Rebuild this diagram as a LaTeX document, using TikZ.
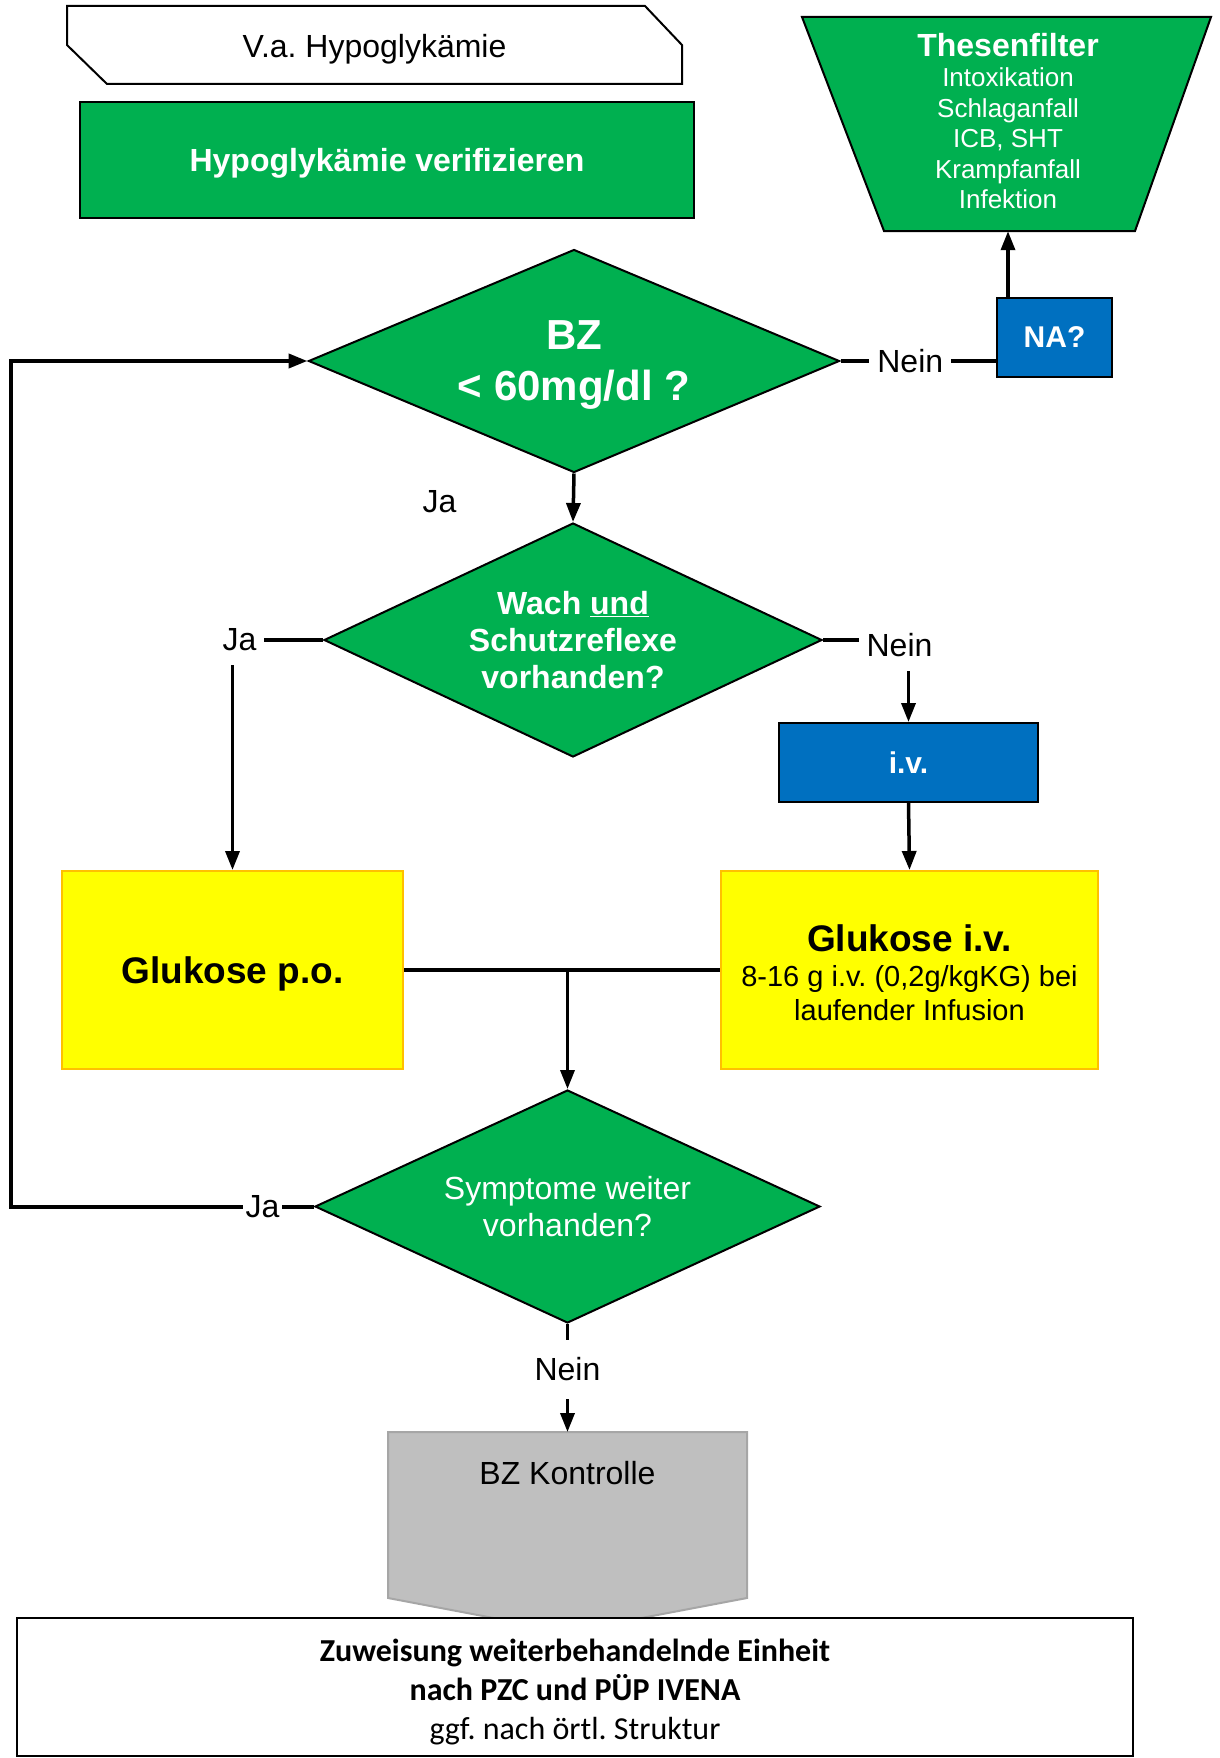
\documentclass[tikz,border=0pt]{standalone}
\usepackage{fontspec}
\setmainfont{Liberation Sans}
\newfontfamily\calibri{Carlito}
\frenchspacing
\usepackage{tikz}
\usetikzlibrary{shapes.geometric,arrows.meta}

\definecolor{flowgreen}{HTML}{00B050}
\definecolor{flowblue}{HTML}{0070C0}
\definecolor{flowyellow}{HTML}{FFFF00}
\definecolor{flowgold}{HTML}{FFC000}
\definecolor{flowgray}{HTML}{BFBFBF}
\definecolor{flowgrayline}{HTML}{A6A6A6}

\begin{document}
\begin{tikzpicture}[x=1pt, y=-1pt,
    box/.style={rectangle, draw, line width=2pt, inner sep=0pt, align=center},
    greenbox/.style={box, fill=flowgreen, text=white},
    bluebox/.style={box, fill=flowblue, text=white, font=\bfseries\fontsize{30}{36}\selectfont},
    yellowbox/.style={box, draw=flowgold, fill=flowyellow},
    decision/.style={diamond, draw, line width=2pt, fill=flowgreen, text=white, inner sep=0pt, align=center},
    answer/.style={fill=white, inner xsep=8pt, inner ysep=14pt, font=\fontsize{32}{38}\selectfont},
    line/.style={line width=4.5pt},
    arrow/.style={line width=3.5pt, -{Triangle[length=19pt,width=14pt]}}]

    \useasboundingbox (0,0) rectangle (1219,1758);

    % Suspicion (chamfered box)
    \draw[line width=2pt] (67,6) -- (645,6) -- (682,45) -- (682,84) -- (107,84) -- (67,45) -- cycle;
    \node[font=\fontsize{32}{38}\selectfont] (verdacht) at (374.5,49.5) {V.a. Hypoglykämie};

    % Verify
    \node[greenbox, minimum width=614pt, minimum height=116pt, text depth=0pt, font=\bfseries\fontsize{32}{38}\selectfont] (verify) at (387,160) {Hypoglykämie verifizieren};

    % Thesenfilter
    \draw[line width=2pt, fill=flowgreen] (802,17) -- (1211,17) -- (1135,231) -- (884,231) -- cycle;
    \node[minimum height=214pt, inner sep=0pt, text=white, align=center, font=\fontsize{26}{30.5}\selectfont] (filter) at (1008,124)
        {{\bfseries\fontsize{32}{38}\selectfont Thesenfilter}\\[0pt]
         Intoxikation\\ Schlaganfall\\ ICB, SHT\\ Krampfanfall\\ Infektion\rule[-6pt]{0pt}{6pt}};

    \node[bluebox, minimum width=115pt, minimum height=79pt] (na) at (1054.5,337.5) {NA?};

    % Decisions
    \node[decision, aspect=2.38, minimum width=531pt, minimum height=223pt, text depth=0pt, font=\bfseries\fontsize{42}{51}\selectfont] (bz) at (574,361) {BZ\\ < 60mg/dl ?};

    \node[decision, aspect=2.13, minimum width=498pt, minimum height=234pt, font=\bfseries\fontsize{32}{37}\selectfont] (wach) at (573,640) {Wach \underline{und}\\ Schutzreflexe\\ vorhanden?};

    \node[bluebox, minimum width=259pt, minimum height=79pt] (iv) at (908.5,762.5) {i.v.};

    % Glucose
    \node[yellowbox, minimum width=341pt, minimum height=198pt, text depth=0pt, font=\bfseries\fontsize{37}{44}\selectfont] (po) at (232.5,970) {Glukose p.o.};

    \node[yellowbox, minimum width=377pt, minimum height=198pt, font=\fontsize{29}{34}\selectfont] (giv) at (909.5,970)
        {{\bfseries\fontsize{37}{44}\selectfont\rule{0pt}{32pt}Glukose i.v.}\\[1pt]
         8-16 g i.v. (0,2g/kgKG) bei\\ laufender Infusion};

    \node[decision, aspect=2.17, minimum width=505pt, minimum height=233pt, font=\fontsize{32}{37}\selectfont] (symptome) at (567.5,1206.5) {Symptome weiter\\ vorhanden?};

    % Control and assignment
    \draw[line width=2pt, draw=flowgrayline, fill=flowgray] (388,1432) -- (747,1432) -- (747,1598) -- (567.5,1632) -- (388,1598) -- cycle;
    \node[anchor=north, minimum width=359pt, inner xsep=0pt, inner ysep=28pt, text height=24pt, text depth=0pt, font=\fontsize{32}{38}\selectfont] (kontrolle) at (567.5,1432) {BZ Kontrolle};

    \node[box, fill=white, minimum width=1116pt, minimum height=138pt, font=\calibri\fontsize{32}{39}\selectfont] (zuweisung) at (575,1687)
        {\rule{0pt}{33pt}\bfseries Zuweisung weiterbehandelnde Einheit\\ \bfseries nach PZC und PÜP IVENA\\ ggf. nach örtl. Struktur};

    % Connectors
    \draw[line] (bz.east) -- node[answer, inner ysep=3pt, xshift=-8pt]{Nein} (bz.east -| na.west);
    \draw[arrow] (filter.south |- na.north) -- (filter.south);
    \draw[arrow] (bz.south) -- node[xshift=-134pt, yshift=-4pt, font=\fontsize{32}{38}\selectfont]{Ja} (wach.north);
    \draw[arrow] (wach.west) -| node[answer, xshift=7pt]{Ja} (po.north);
    \draw[arrow] (wach.east) -| node[answer, xshift=-9pt, yshift=-5pt]{Nein} (iv.north);
    \draw[arrow] (iv.south) -- (giv.north);
    \draw[line] (po.east) -- (giv.west);
    \draw[arrow] (symptome.north |- po.east) -- (symptome.north);
    \coordinate (loopcorner) at (11,1206.5);
    \draw[arrow, line width=4pt] (symptome.west) -- node[answer, pos=0.17, inner ysep=3pt, inner xsep=3pt]{Ja} (loopcorner) |- (bz.west);
    \draw[arrow] (symptome.south) -- node[answer, pos=0.42, inner ysep=18pt]{Nein} (kontrolle.north);

\end{tikzpicture}
\end{document}
